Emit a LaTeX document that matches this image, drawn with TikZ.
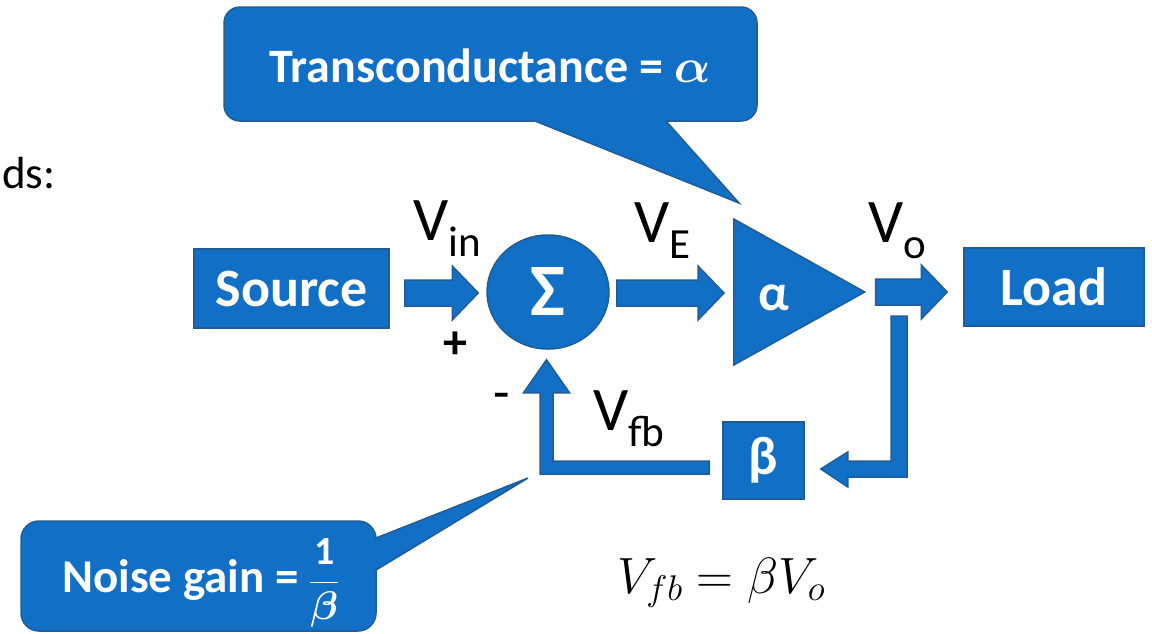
\documentclass[tikz,border=0pt]{standalone}
\usepackage{fix-cm}
\usepackage{amsmath}
\usepackage{fontspec}
\setmainfont{Carlito}
\usetikzlibrary{calc,shapes.geometric}
\definecolor{boxblue}{HTML}{1170C6}
\definecolor{edgeblue}{HTML}{215C96}
\newcommand{\fs}[1]{\fontsize{#1}{#1}\selectfont}
\newcommand{\vsub}[1]{V\raisebox{-16pt}{\fs{43}#1}}
\newcommand{\fatarrow}[2]{%
  \filldraw[blk] ($(#1 |- #2)+(0,-13)$) -- ($(#2)+(-26,-13)$) -- ($(#2)+(-26,-27)$) -- (#2)
    -- ($(#2)+(-26,27)$) -- ($(#2)+(-26,13)$) -- ($(#1 |- #2)+(0,13)$) -- cycle;}

\begin{document}
\begin{tikzpicture}[
    x=1pt, y=-1pt,
    blk/.style={fill=boxblue, draw=edgeblue, line width=1.5pt},
    blockbox/.style={blk, rectangle, inner sep=0pt, text=white, font=\fs{54}\bfseries},
    sig/.style={anchor=base west, inner sep=0pt, font=\fs{62}},
    callout/.style={blk, rounded corners=16pt},
    calltext/.style={text=white, inner sep=0pt, anchor=base, font=\fs{48}\bfseries}
]
\useasboundingbox (0,0) rectangle (1152,633);

% cut-off text on the left
\node[anchor=base west, inner sep=0pt, font=\fs{45}] (ds) at (2,188) {ds:};

% blocks
\node[blockbox, ellipse, minimum width=122, minimum height=114, font=\fs{74}\bfseries] (sum) at (548,292)
  {\raisebox{-5pt}{Σ}};
\node[blockbox, minimum width=195, minimum height=79] (src) at (291.5,288.5) {Source};
\node[blk, isosceles triangle, isosceles triangle stretches, minimum width=146, minimum height=131,
      inner sep=0pt, anchor=lower side] (amp) at (733,292) {};
\node[text=white, inner sep=0pt, font=\fs{52}\bfseries] (alpha) at ($(amp.lower side)+(41,6)$) {α};
\node[blockbox, minimum width=180, minimum height=78] (load) at (1054,287) {Load};
\node[blockbox, minimum width=81, minimum height=77] (fb) at (763.5,460.5) {β};

% forward path
\coordinate (a1s) at ($(src.east)+(15,0)$);
\coordinate (a1e) at ($(sum.west)+(-8,1)$);
\coordinate (a2s) at ($(sum.east)+(7,0)$);
\coordinate (a2e) at ($(amp.lower side)+(-9,1)$);
\coordinate (a3s) at ($(amp.apex)+(9,0)$);
\coordinate (a3e) at ($(load.west |- amp.apex)+(-16,0)$);
\fatarrow{a1s}{a1e}
\fatarrow{a2s}{a2e}
\fatarrow{a3s}{a3e}

% feedback path
\coordinate (tap) at (899,316);
\coordinate (fbin) at ($(fb.east)+(16,8.5)$);
\filldraw[blk] ($(tap)+(-8,0)$) -- ($(tap)+(8,0)$) -- ($(tap |- fbin)+(8,8)$) -- ($(fbin)+(27,8)$)
  -- ($(fbin)+(27,18)$) -- (fbin) -- ($(fbin)+(27,-17)$) -- ($(fbin)+(27,-8)$)
  -- ($(tap |- fbin)+(-8,-8)$) -- cycle;
\coordinate (fbout) at ($(fb.west)+(-13,7)$);
\coordinate (sumin) at ($(sum.south)+(-1.5,10)$);
\filldraw[blk] ($(fbout)+(0,-6.5)$) -- ($(sumin |- fbout)+(6.5,-6.5)$) -- ($(sumin)+(6.5,33)$)
  -- ($(sumin)+(23,33)$) -- (sumin) -- ($(sumin)+(-23,33)$) -- ($(sumin)+(-6.5,33)$)
  -- ($(sumin |- fbout)+(-6.5,6.5)$) -- ($(fbout)+(0,6.5)$) -- cycle;

% signal names
\node[sig] (vin) at (413,240) {\vsub{in}};
\node[sig] (ve) at (634,242) {\vsub{E}};
\node[sig] (vo) at (868,242) {\vsub{o}};
\node[sig] (vfb) at (593,430) {\vsub{fb}};
\node[anchor=base, inner sep=0pt, font=\fs{48}\bfseries] (plus) at (455,358) {+};
\node[anchor=base, inner sep=0pt, font=\fs{54}] (minus) at (502,410) {-};

% callouts
\filldraw[callout] (224,7) -- (757,7) -- (757,121) [sharp corners] -- (666,121) -- (739,203)
  -- (535,121) [rounded corners=16pt] -- (224,121) -- cycle;
\node[calltext] (tc) at (490,82) {Transconductance = $\boldsymbol{\alpha}$};
\filldraw[callout, rounded corners=18pt] (21,521) -- (376,521) [sharp corners] -- (376,538) -- (528,478)
  -- (376,570) [rounded corners=18pt] -- (376,631) -- (21,631) -- cycle;
\node[calltext, anchor=base west, font=\fs{47}\bfseries] (ng) at (62,592)
  {Noise gain = {\fs{40}$\dfrac{\mathbf{1}}{\boldsymbol{\beta}}$}};

% relation
\node[anchor=base west, inner sep=0pt, font=\fs{51}] (eq) at (617,593) {$V_{fb} = \beta V_o$};

\end{tikzpicture}
\end{document}
